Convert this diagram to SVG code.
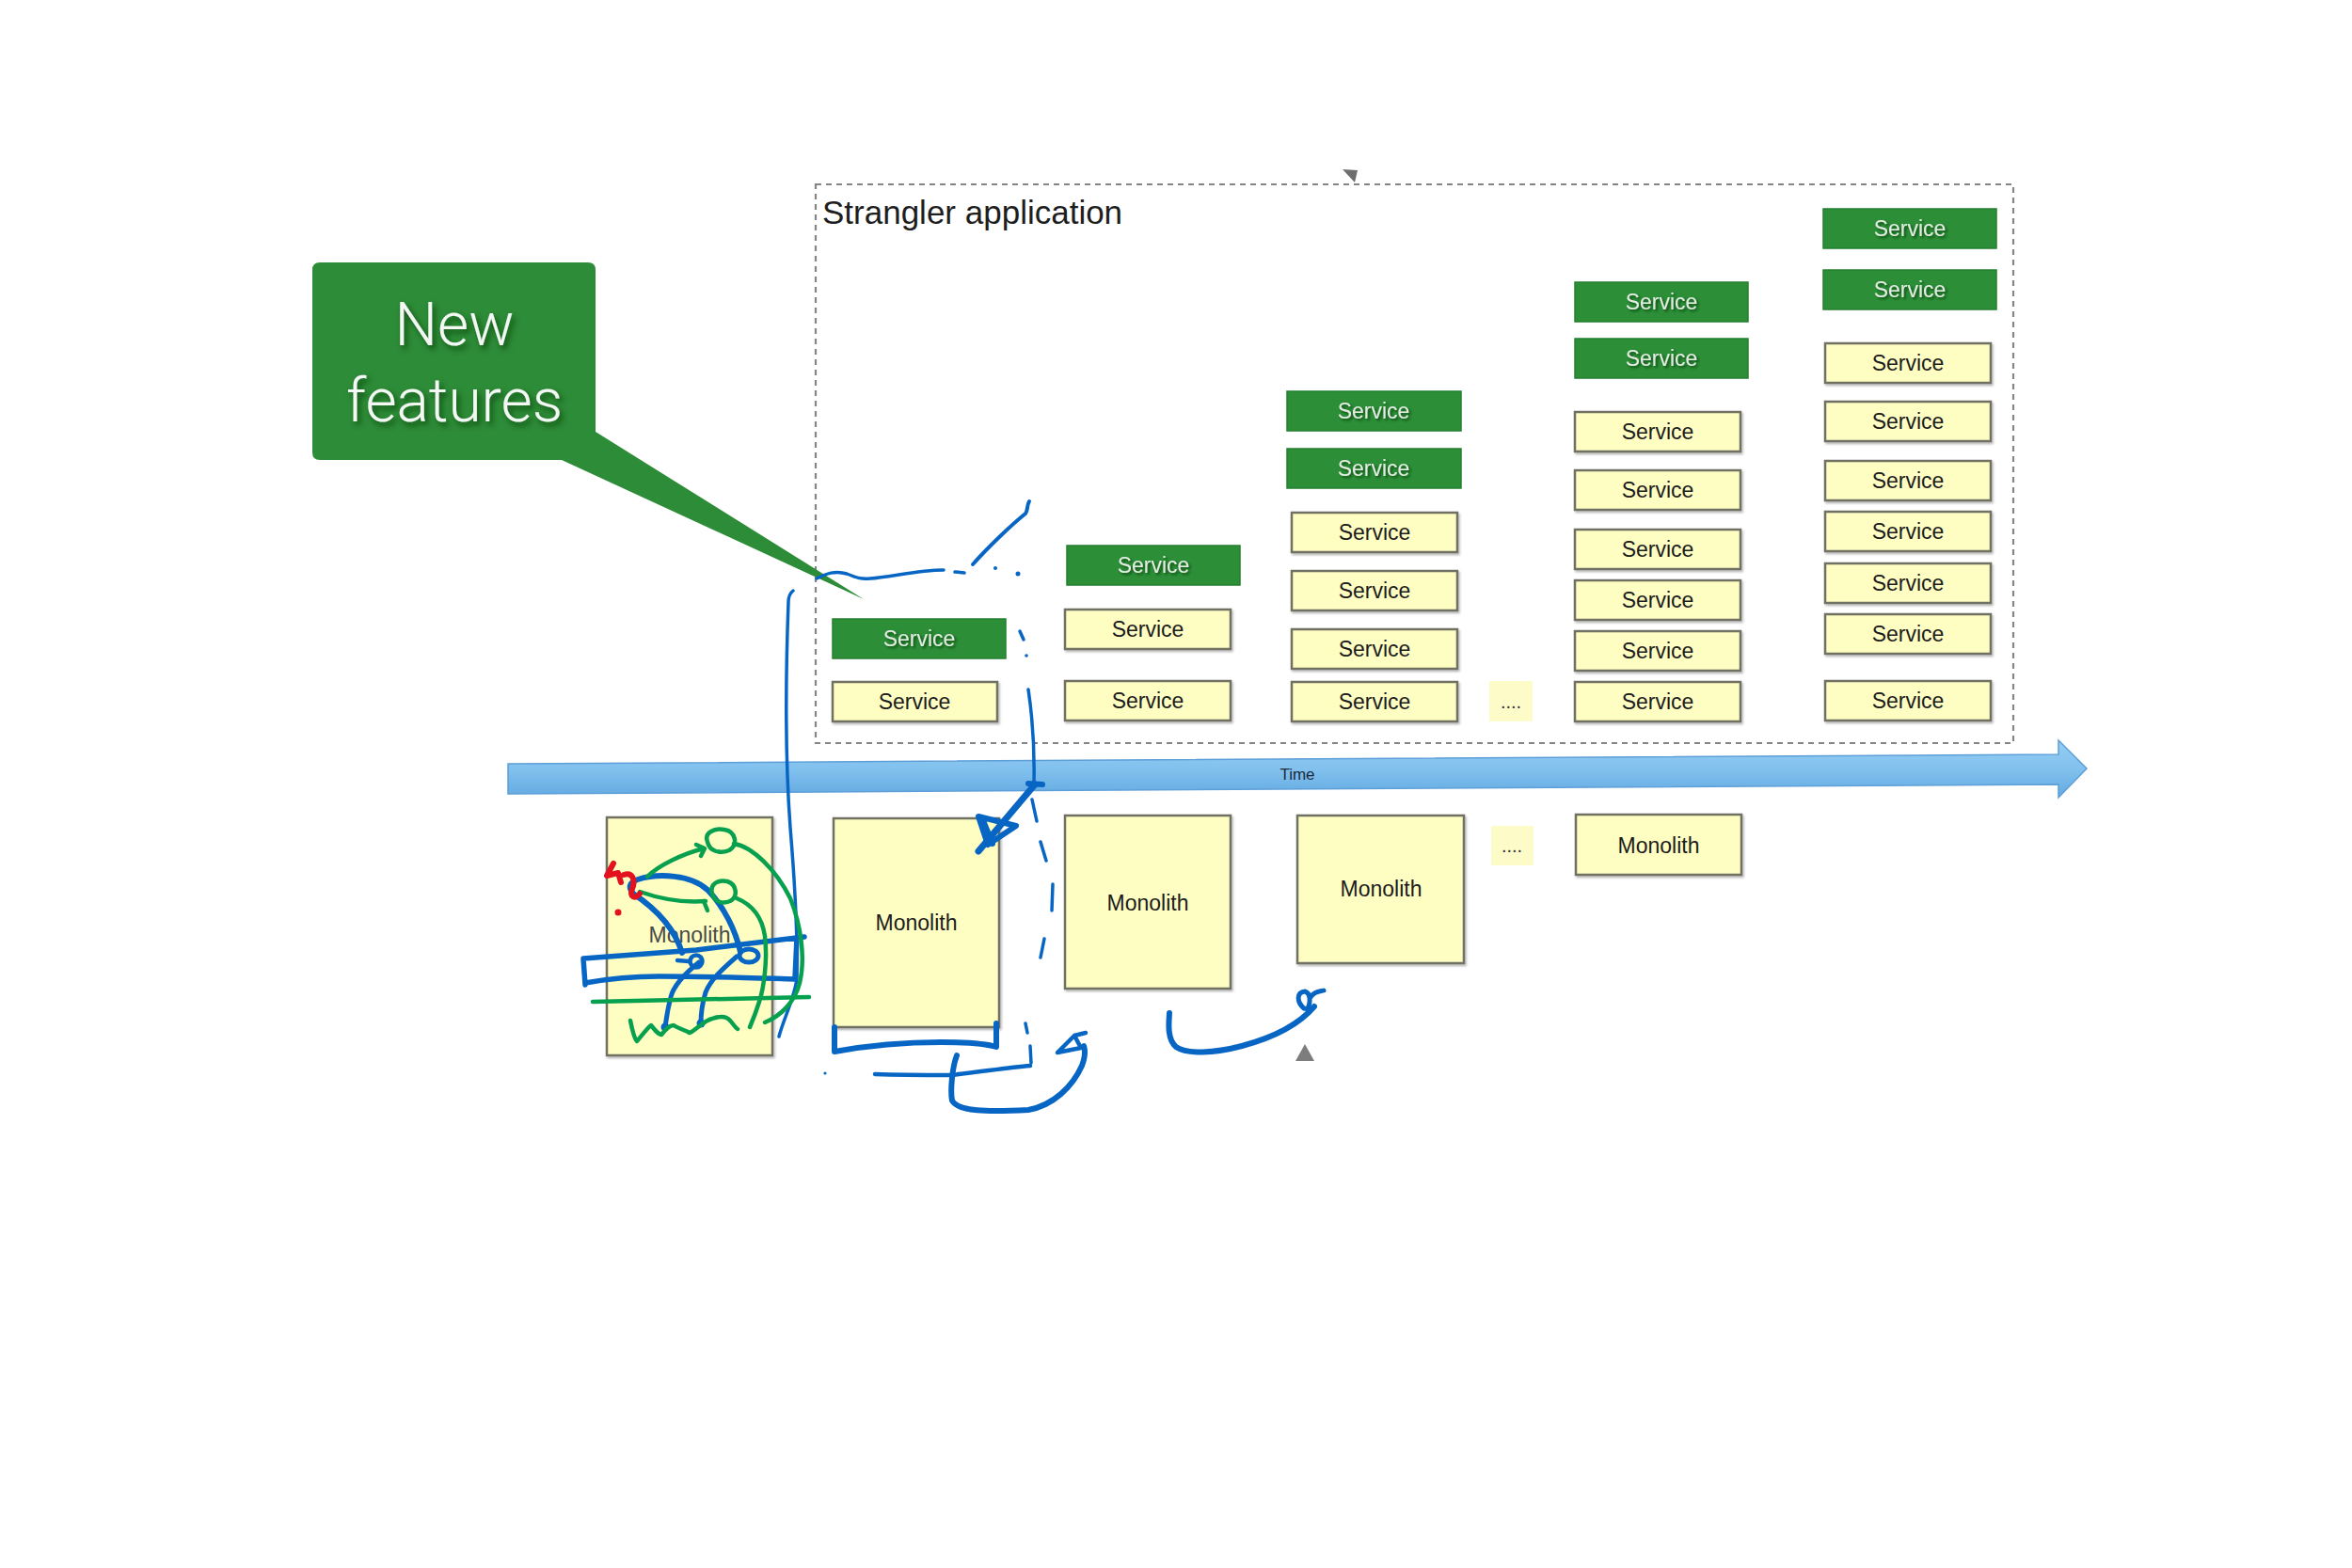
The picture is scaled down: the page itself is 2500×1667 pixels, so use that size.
<svg xmlns="http://www.w3.org/2000/svg" width="2500" height="1667" viewBox="0 0 2500 1667">
<defs>
  <filter id="sh" x="-10%" y="-10%" width="130%" height="140%">
    <feDropShadow dx="1.5" dy="2" stdDeviation="1.2" flood-color="#000" flood-opacity="0.28"/>
  </filter>
  <filter id="tsh" x="-20%" y="-20%" width="150%" height="160%">
    <feDropShadow dx="2" dy="2" stdDeviation="1.5" flood-color="#0b3d10" flood-opacity="0.85"/>
  </filter>
  <filter id="tsh2" x="-20%" y="-20%" width="150%" height="160%">
    <feDropShadow dx="3" dy="4" stdDeviation="3" flood-color="#0a3a0e" flood-opacity="0.8"/>
  </filter>
  <linearGradient id="band" x1="0" y1="0" x2="0" y2="1">
    <stop offset="0" stop-color="#94cdf3"/>
    <stop offset="0.5" stop-color="#82c1ee"/>
    <stop offset="1" stop-color="#62a9e1"/>
  </linearGradient>
  <style>
    .y rect { fill: #fefdc2; stroke: #6f6f64; stroke-width: 2.5; filter: url(#sh); }
    .g rect { fill: #2c8f38; stroke: #25802f; stroke-width: 1.5; }
    .y text { font-family: "Liberation Sans", Arial, sans-serif; font-size: 23px; fill: #1c1c1c; text-anchor: middle; }
    .g text { font-family: "Liberation Sans", Arial, sans-serif; font-size: 23px; fill: #e2ece2; text-anchor: middle; filter: url(#tsh); }
    .dots rect { fill: #fdfbc8; }
    .dots text { font-family: "Liberation Sans", Arial, sans-serif; font-size: 20px; fill: #333; text-anchor: middle; }
    .ink { fill: none; stroke: #0765c4; stroke-linecap: round; stroke-linejoin: round; stroke-width: 6; }
    .thin { stroke-width: 3.5; }
    .ing { fill: none; stroke: #07a04f; stroke-linecap: round; stroke-linejoin: round; stroke-width: 4.5; }
    .inr { fill: none; stroke: #e2121f; stroke-linecap: round; stroke-linejoin: round; stroke-width: 6; }
  </style>
</defs>
<rect width="2500" height="1667" fill="#ffffff"/>

<!-- Strangler application container -->
<g id="strangler">
  <rect x="867" y="196" width="1273" height="594" fill="none" stroke="#858585" stroke-width="2.2" stroke-dasharray="6 5"/>
  <text x="874" y="238" font-family="Liberation Sans, Arial, sans-serif" font-size="35" fill="#1e1e1e">Strangler application</text>
  <polygon points="1427,180 1443,181 1440,194" fill="#555" opacity="0.85"/>
</g>

<!-- New features callout -->
<g id="new-features">
  <path d="M340,279 H625 Q633,279 633,287 V459 L918,637 L597,489 H340 Q332,489 332,481 V287 Q332,279 340,279 Z" fill="#2d8c37"/>
  <g font-family="Roboto, Liberation Sans, Arial, sans-serif" font-weight="300" font-size="64" fill="#f4f8f4" text-anchor="middle" filter="url(#tsh2)">
    <text x="483" y="367">New</text>
    <text x="483" y="448">features</text>
  </g>
</g>

<!-- Time arrow -->
<g id="time-arrow">
  <path d="M540,812 L2188,802 L2188,787 L2218,817 L2188,848 L2188,834 L540,844 Z" fill="url(#band)" stroke="#5d9fd8" stroke-width="1.5"/>
  <text x="1379" y="829" font-family="Liberation Sans, Arial, sans-serif" font-size="17" fill="#1a2a3a" text-anchor="middle">Time</text>
</g>

<!-- Column 1 -->
<g id="c1-new1" class="g"><rect x="885" y="658" width="184" height="42"/><text x="977" y="687">Service</text></g>
<g id="c1-s1" class="y"><rect x="885" y="725" width="175" height="42"/><text x="972" y="754">Service</text></g>

<!-- Column 2 -->
<g id="c2-new1" class="g"><rect x="1134" y="580" width="184" height="42"/><text x="1226" y="609">Service</text></g>
<g id="c2-s1" class="y"><rect x="1132" y="648" width="176" height="42"/><text x="1220" y="677">Service</text></g>
<g id="c2-s2" class="y"><rect x="1132" y="724" width="176" height="42"/><text x="1220" y="753">Service</text></g>

<!-- Column 3 -->
<g id="c3-new1" class="g"><rect x="1368" y="416" width="185" height="42"/><text x="1460" y="445">Service</text></g>
<g id="c3-new2" class="g"><rect x="1368" y="477" width="185" height="42"/><text x="1460" y="506">Service</text></g>
<g id="c3-s1" class="y"><rect x="1373" y="545" width="176" height="42"/><text x="1461" y="574">Service</text></g>
<g id="c3-s2" class="y"><rect x="1373" y="607" width="176" height="42"/><text x="1461" y="636">Service</text></g>
<g id="c3-s3" class="y"><rect x="1373" y="669" width="176" height="42"/><text x="1461" y="698">Service</text></g>
<g id="c3-s4" class="y"><rect x="1373" y="725" width="176" height="42"/><text x="1461" y="754">Service</text></g>

<g id="dots-top" class="dots"><rect x="1583" y="724" width="46" height="43"/><text x="1606" y="753">....</text></g>

<!-- Column 4 -->
<g id="c4-new1" class="g"><rect x="1674" y="300" width="184" height="42"/><text x="1766" y="329">Service</text></g>
<g id="c4-new2" class="g"><rect x="1674" y="360" width="184" height="42"/><text x="1766" y="389">Service</text></g>
<g id="c4-s1" class="y"><rect x="1674" y="438" width="176" height="42"/><text x="1762" y="467">Service</text></g>
<g id="c4-s2" class="y"><rect x="1674" y="500" width="176" height="42"/><text x="1762" y="529">Service</text></g>
<g id="c4-s3" class="y"><rect x="1674" y="563" width="176" height="42"/><text x="1762" y="592">Service</text></g>
<g id="c4-s4" class="y"><rect x="1674" y="617" width="176" height="42"/><text x="1762" y="646">Service</text></g>
<g id="c4-s5" class="y"><rect x="1674" y="671" width="176" height="42"/><text x="1762" y="700">Service</text></g>
<g id="c4-s6" class="y"><rect x="1674" y="725" width="176" height="42"/><text x="1762" y="754">Service</text></g>

<!-- Column 5 -->
<g id="c5-new1" class="g"><rect x="1938" y="222" width="184" height="42"/><text x="2030" y="251">Service</text></g>
<g id="c5-new2" class="g"><rect x="1938" y="287" width="184" height="42"/><text x="2030" y="316">Service</text></g>
<g id="c5-s1" class="y"><rect x="1940" y="365" width="176" height="42"/><text x="2028" y="394">Service</text></g>
<g id="c5-s2" class="y"><rect x="1940" y="427" width="176" height="42"/><text x="2028" y="456">Service</text></g>
<g id="c5-s3" class="y"><rect x="1940" y="490" width="176" height="42"/><text x="2028" y="519">Service</text></g>
<g id="c5-s4" class="y"><rect x="1940" y="544" width="176" height="42"/><text x="2028" y="573">Service</text></g>
<g id="c5-s5" class="y"><rect x="1940" y="599" width="176" height="42"/><text x="2028" y="628">Service</text></g>
<g id="c5-s6" class="y"><rect x="1940" y="653" width="176" height="42"/><text x="2028" y="682">Service</text></g>
<g id="c5-s7" class="y"><rect x="1940" y="724" width="176" height="42"/><text x="2028" y="753">Service</text></g>

<!-- Monoliths -->
<g id="mono1" class="y"><rect x="645" y="869" width="176" height="253"/><text x="733" y="1002" style="fill:#4a4a4a">Monolith</text></g>
<g id="mono2" class="y"><rect x="886" y="870" width="176" height="222"/><text x="974" y="989">Monolith</text></g>
<g id="mono3" class="y"><rect x="1132" y="867" width="176" height="184"/><text x="1220" y="968">Monolith</text></g>
<g id="mono4" class="y"><rect x="1379" y="867" width="177" height="157"/><text x="1468" y="953">Monolith</text></g>
<g id="dots-bottom" class="dots"><rect x="1585" y="878" width="45" height="42"/><text x="1607" y="906">....</text></g>
<g id="mono5" class="y"><rect x="1675" y="866" width="176" height="64"/><text x="1763" y="907">Monolith</text></g>

<polygon id="marker-bottom" points="1387,1110 1397,1128 1377,1128" fill="#666" opacity="0.85"/>

<!-- Hand-drawn annotations -->
<g id="connectors">
  <!-- blue -->
  <path class="ink thin" d="M843,628 Q838,632 838,640 C835,720 834,800 840,880 C845,940 848,990 847,1040 C845,1060 832,1085 828,1102"/>
  <path class="ink thin" d="M868,615 C878,610 888,606 900,610 C910,614 915,616 925,615 C945,614 975,606 1003,606"/>
  <path class="ink thin" d="M1015,608 L1025,609"/>
  <circle cx="1058" cy="604" r="2" fill="#0765c4"/>
  <circle cx="1082" cy="610" r="2.5" fill="#0765c4"/>
  <path class="ink" style="stroke-width:4" d="M1034,600 C1050,582 1075,558 1090,546 C1093,542 1091,538 1094,533"/>
  <path class="ink thin" d="M1084,671 L1088,680"/>
  <circle cx="1091" cy="697" r="1.8" fill="#0765c4"/>
  <path class="ink thin" d="M1093,733 C1097,760 1100,790 1099,833"/>
  <path class="ink" d="M1093,833 L1108,834"/>
  <path class="ink" style="stroke-width:7" d="M1100,834 L1040,905"/>
  <path class="ink" d="M1040,868 L1080,878 L1050,898 Z M1044,870 L1055,897"/>
  <path class="ink thin" d="M1097,850 L1102,873 M1106,895 L1112,915 M1119,940 L1118,968 M1110,998 L1106,1018 M1090,1088 L1092,1098 M1095,1112 L1096,1130"/>
  <path class="ink" d="M887,1092 L887,1118 C920,1112 960,1108 1000,1108 C1030,1108 1050,1110 1059,1113 L1059,1088"/>
  <path class="ink thin" style="stroke-width:4.5" d="M930,1142 C960,1143 990,1143 1010,1143 C1040,1140 1070,1135 1095,1133"/>
  <circle cx="877" cy="1141" r="1.6" fill="#0765c4"/>
  <path class="ink" d="M1017,1122 C1012,1135 1010,1160 1012,1170 C1018,1182 1050,1182 1093,1180 C1120,1175 1140,1155 1150,1133 C1153,1125 1154,1118 1152,1112"/>
  <path class="ink" style="stroke-width:4.5" d="M1124,1119 L1142,1101 L1149,1114 Z M1142,1101 L1154,1098"/>
  <path class="ink" d="M1243,1077 C1242,1090 1241,1105 1250,1113 C1262,1121 1290,1120 1320,1112 C1350,1104 1380,1090 1397,1070"/>
  <path class="ink" style="stroke-width:5" d="M1386,1072 C1378,1065 1378,1055 1387,1054 C1394,1056 1393,1068 1389,1073 M1393,1060 C1398,1053 1404,1054 1407,1053"/>
  <!-- blue inside monolith 1 -->
  <path class="ink" d="M725,1013 C718,990 700,968 673,950 C668,944 668,938 678,935 C700,928 735,930 752,946 C770,964 782,990 787,1012"/>
  <path class="ink" style="stroke-width:5.5" d="M620,1019 C660,1016 700,1013 740,1010 C780,1005 820,1000 855,996 M620,1019 L622,1047 M622,1045 C650,1040 670,1038 700,1038 C760,1038 810,1040 845,1041 M847,997 L845,1040"/>
  <circle cx="740" cy="1022" r="6.5" class="ink" style="stroke-width:4.5"/>
  <ellipse cx="796" cy="1016" rx="10" ry="7" class="ink" style="stroke-width:5"/>
  <path class="ink" style="stroke-width:4.5" d="M720,1021 L732,1022"/>
  <path class="ink" style="stroke-width:5" d="M743,1023 C728,1035 716,1048 713,1060 C709,1075 708,1085 707,1092 M783,1017 C768,1030 755,1042 750,1055 C746,1068 745,1080 745,1088"/>
  <circle cx="707" cy="1092" r="4.5" fill="#0765c4"/>
  <circle cx="745" cy="1088" r="4.5" fill="#0765c4"/>
  <!-- green -->
  <path class="ing" d="M688,932 C700,920 725,908 748,902 M740,898 L749,902 L745,910"/>
  <path class="ing" d="M752,895 C748,885 760,880 770,882 C782,884 785,898 775,904 C765,908 754,905 752,895"/>
  <path class="ing" d="M780,897 C800,900 825,925 840,955 C852,985 856,1020 850,1045 C845,1065 830,1080 813,1087"/>
  <path class="ing" d="M680,948 C700,955 725,960 750,958 M748,958 L752,968"/>
  <path class="ing" d="M757,950 C754,940 763,935 773,937 C783,940 785,953 776,958 C767,962 759,958 757,950"/>
  <path class="ing" d="M783,955 C800,962 810,975 813,995 C816,1020 812,1050 807,1065 C803,1078 800,1085 797,1092"/>
  <path class="ing" d="M630,1065 C700,1063 780,1062 860,1060"/>
  <path class="ing" d="M670,1085 C672,1095 674,1104 677,1107 C683,1100 688,1093 692,1090 C696,1095 700,1100 703,1100 C707,1095 711,1090 716,1090 C722,1094 728,1095 733,1098 C740,1095 748,1085 757,1083 C765,1080 772,1080 776,1085 C779,1088 781,1092 784,1094"/>
  <!-- red -->
  <path class="inr" d="M652,918 L645,931 L657,928 L660,938 M663,930 C672,927 676,935 672,945 C668,953 676,957 680,950"/>
  <circle cx="657" cy="970" r="3.5" fill="#e2121f"/>
</g>
</svg>
